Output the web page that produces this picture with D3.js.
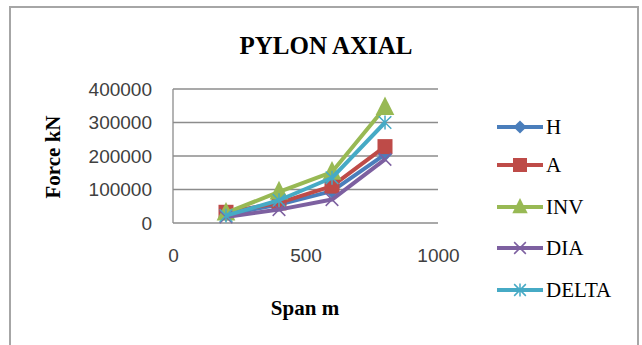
<!DOCTYPE html>
<html><head><meta charset="utf-8">
<script src="https://cdn.jsdelivr.net/npm/d3@7"></script>
<style>body{margin:0;background:#fff}svg{display:block}</style>
</head><body>
<script>
const spans = [200, 400, 600, 800];
const seriesNames = ["H", "A", "INV", "DIA", "DELTA"];
const H = [25000, 55000, 95000, 205000];
const A = [32000, 60000, 110000, 228000];
const INV = [30000, 93000, 152000, 345000];
const DIA = [18000, 40000, 70000, 190000];
const DELTA = [22000, 68000, 135000, 300000];
const xTicks = [0, 500, 1000];
const yTicks = [0, 100000, 200000, 300000, 400000];

const colors = {H:"#4A7EBB", A:"#BE4B48", INV:"#98B954", DIA:"#7D60A0", DELTA:"#46AAC5"};
const markers = {H:"diamond", A:"square", INV:"triangle", DIA:"x", DELTA:"star"};
const values = {H, A, INV, DIA, DELTA};

const W = 642, Ht = 345;
const svg = d3.select("body").append("svg").attr("width", W).attr("height", Ht);

svg.append("rect").attr("x", 10).attr("y", 7).attr("width", 628).attr("height", 345)
  .attr("fill", "#fff").attr("stroke", "#a6a6a6").attr("stroke-width", 2);

const x = d3.scaleLinear().domain([0, 1000]).range([173, 438]);
const y = d3.scaleLinear().domain([0, 400000]).range([223, 89]);

// gridlines
svg.append("g").selectAll("line").data(yTicks).join("line")
  .attr("x1", 173).attr("x2", 438).attr("y1", d => y(d)).attr("y2", d => y(d))
  .attr("stroke", "#8c8c8c").attr("stroke-width", 1.3);
svg.append("line").attr("x1", 173).attr("x2", 173).attr("y1", 89).attr("y2", 223)
  .attr("stroke", "#8c8c8c").attr("stroke-width", 1.3);

const yAxis = d3.axisLeft(y).tickValues(yTicks).tickSize(0).tickPadding(21).tickFormat(d3.format("d"));
const gy = svg.append("g").attr("transform", "translate(173,0)").call(yAxis);
gy.select(".domain").remove();
gy.selectAll("text").attr("font-family", "'Liberation Sans', Arial, sans-serif")
  .attr("font-size", 19).attr("fill", "#404040");

const xAxis = d3.axisBottom(x).tickValues(xTicks).tickSize(0).tickPadding(26).tickFormat(d3.format("d"));
const gx = svg.append("g").attr("transform", "translate(0,223)").call(xAxis);
gx.select(".domain").remove();
gx.selectAll("text").attr("font-family", "'Liberation Sans', Arial, sans-serif")
  .attr("font-size", 19).attr("fill", "#404040");

// titles
svg.append("text").attr("x", 326).attr("y", 54).attr("text-anchor", "middle")
  .attr("font-family", "'Liberation Serif', 'Times New Roman', serif").attr("font-weight", "bold")
  .attr("font-size", 25).attr("fill", "#000").text("PYLON AXIAL");
svg.append("text").attr("x", 305).attr("y", 315).attr("text-anchor", "middle")
  .attr("font-family", "'Liberation Serif', 'Times New Roman', serif").attr("font-weight", "bold")
  .attr("font-size", 21).attr("fill", "#000").text("Span m");
svg.append("text").attr("transform", "translate(60,157) rotate(-90)").attr("text-anchor", "middle")
  .attr("font-family", "'Liberation Serif', 'Times New Roman', serif").attr("font-weight", "bold")
  .attr("font-size", 21).attr("fill", "#000").text("Force kN");

function drawMarker(g, type, color, cx, cy, s) {
  if (type === "diamond") {
    g.append("path").attr("d", `M${cx},${cy-s*0.6}L${cx+s*0.6},${cy}L${cx},${cy+s*0.6}L${cx-s*0.6},${cy}Z`).attr("fill", color);
  } else if (type === "square") {
    g.append("rect").attr("x", cx - s/2).attr("y", cy - s/2).attr("width", s).attr("height", s).attr("fill", color);
  } else if (type === "triangle") {
    g.append("path").attr("d", `M${cx},${cy-s*0.65}L${cx+s*0.55},${cy+s*0.45}L${cx-s*0.55},${cy+s*0.45}Z`).attr("fill", color);
  } else if (type === "x") {
    const r = s*0.45;
    g.append("path").attr("d", `M${cx-r},${cy-r}L${cx+r},${cy+r}M${cx-r},${cy+r}L${cx+r},${cy-r}`)
      .attr("stroke", color).attr("stroke-width", 1.5).attr("fill", "none");
  } else if (type === "star") {
    const r = s*0.45;
    g.append("path").attr("d", `M${cx-r},${cy-r}L${cx+r},${cy+r}M${cx-r},${cy+r}L${cx+r},${cy-r}M${cx},${cy-r*1.1}L${cx},${cy+r*1.1}`)
      .attr("stroke", color).attr("stroke-width", 1.5).attr("fill", "none");
  }
}

const line = d3.line().x(d => x(d[0])).y(d => y(d[1]));
seriesNames.forEach(name => {
  const pts = spans.map((s, i) => [s, values[name][i]]);
  const g = svg.append("g");
  g.append("path").datum(pts).attr("d", line).attr("fill", "none")
    .attr("stroke", colors[name]).attr("stroke-width", 4).attr("stroke-linejoin", "round");
  const msize = {H: 12, A: 15, INV: 17, DIA: 14, DELTA: 14}[name];
  pts.forEach(p => drawMarker(g, markers[name], colors[name], x(p[0]), y(p[1]), msize));
});

// legend
const legY = [127, 165, 207, 248, 290];
seriesNames.forEach((name, i) => {
  const g = svg.append("g");
  const ly = legY[i];
  g.append("line").attr("x1", 497).attr("x2", 543).attr("y1", ly).attr("y2", ly)
    .attr("stroke", colors[name]).attr("stroke-width", 4);
  const msize = {H: 11, A: 14, INV: 14, DIA: 13, DELTA: 13}[name];
  drawMarker(g, markers[name], colors[name], 520, ly, msize);
  g.append("text").attr("x", 546).attr("y", ly + 7)
    .attr("font-family", "'Liberation Serif', 'Times New Roman', serif")
    .attr("font-size", 21).attr("fill", "#000").text(name);
});
</script>
</body></html>
